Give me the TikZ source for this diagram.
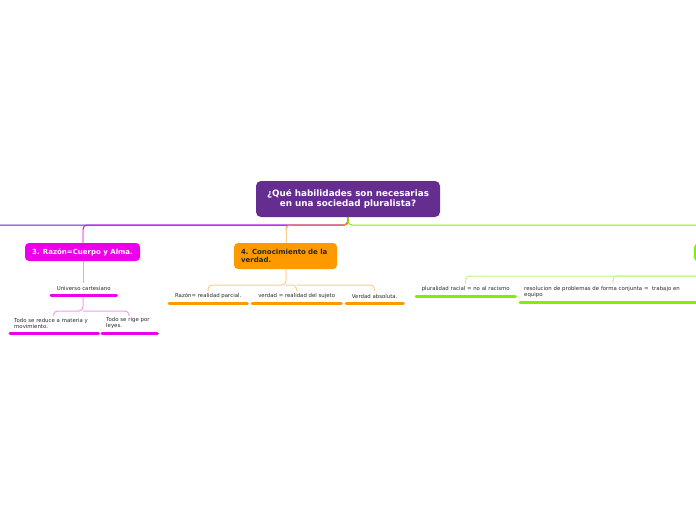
\documentclass[tikz,border=0pt]{standalone}
\usepackage{fontspec}
\setmainfont{DejaVu Sans}
\definecolor{cpurple}{HTML}{662D91}
\definecolor{cmag}{HTML}{EC00EC}
\definecolor{cmagl}{HTML}{F29CF2}
\definecolor{corange}{HTML}{FF9900}
\definecolor{corangel}{HTML}{FFCF8A}
\definecolor{cgreen}{HTML}{80F000}
\definecolor{cgreenl}{HTML}{BFF888}
\definecolor{cblue}{HTML}{5522DD}
\definecolor{ctext}{HTML}{2A2A2A}
\tikzset{
  topic/.style={rounded corners=4pt, minimum height=18pt, inner sep=0pt, font=\fontsize{7}{8}\selectfont\bfseries},
  leaf/.style={anchor=south west, inner xsep=4pt, inner ysep=3.8pt, align=left, text=ctext, font=\fontsize{5.4}{6.4}\selectfont},
  ul/.style={line width=3pt, line cap=round},
  conn/.style={line width=1pt, rounded corners=4pt},
}
\begin{document}
\begin{tikzpicture}[x=1pt,y=-1pt]
\clip (0,0) rectangle (696,520);
\fill[white] (0,0) rectangle (696,520);
% central
\node[rounded corners=5pt, fill=cpurple, text=white, minimum width=184pt, minimum height=36pt, align=center, inner sep=0pt,
  font=\fontsize{8.8}{10.6}\selectfont\bfseries] (c) at (348,199) {¿Qué habilidades son necesarias\\en una sociedad pluralista?};
% main topics
\node[topic, fill=cmag, text=white, minimum width=115pt] (r) at (82.5,252) {3. Razón=Cuerpo y Alma.};
\node[topic, fill=corange, text=black!85, minimum width=103pt, minimum height=26pt, text width=89pt, align=left] (k) at (285.5,256) {4. Conocimiento de la\\verdad.};
\node[topic, fill=cgreen, minimum width=120pt] (g) at (754,252.5) {};
\coordinate (w) at (-20,225);
% leaves
\node[leaf, minimum width=65pt] (u) at (51,295) {Universo cartesiano};
\node[leaf, minimum width=87pt, text width=80pt] (t1) at (10,333) {Todo se reduce a materia y\\movimiento.};
\node[leaf, minimum width=54pt, text width=47pt] (t2) at (102,333) {Todo se rige por\\leyes.};
\node[leaf, minimum width=78pt] (o1) at (169,303) {Razón= realidad parcial.};
\node[leaf, minimum width=89pt] (o2) at (252,303) {verdad = realidad del sujeto};
\node[leaf, minimum width=57pt] (o3) at (346,303) {Verdad absoluta.};
\node[leaf, minimum width=99pt] (g1) at (416,296) {pluralidad racial = no al racismo};
\node[leaf, minimum width=186pt, text width=179pt] (g2) at (520,302) {resolucion de problemas de forma conjunta =\ \ trabajo en\\equipo};
% spine connectors
\draw[conn, cblue] (c.south) -- (348,225) -- (w);
\draw[conn, cmag] (c.south) -- (348,225) -- (83,225) -- (r.north -| 83,0);
\draw[conn, cmagl] (83,230) -- (r.north -| 83,0);
\draw[conn, corange] (c.south) -- (348,225) -- (286,225) -- (286,230);
\draw[conn, corangel] (286,228) -- (k.north -| 286,0);
\draw[conn, cgreen] (c.south) -- (348,225) -- (754,225) -- (g.north);
% magenta subtree
\draw[conn, cmagl] (r.south -| 83,0) -- (83,283);
\draw[conn, cmagl] (83,296) -- (83,311) -- (53.5,311) -- (53.5,316);
\draw[conn, cmagl] (83,311) -- (129,311) -- (129,316);
% orange subtree
\draw[conn, corangel] (k.south -| 286,0) -- (286,285) -- (208,285) -- (208,291);
\draw[conn, corangel] (286,285) -- (296.5,285) -- (296.5,291);
\draw[conn, corangel] (296.5,285) -- (374.5,285) -- (374.5,291);
% green subtree
\draw[conn, cgreenl] (g.south) -- (754,276) -- (465.5,276) -- (465.5,283);
\draw[conn, cgreenl] (754,276) -- (613,276) -- (613,283);
% underlines
\draw[ul, cmag] (u.south west) -- (u.south east);
\draw[ul, cmag] (t1.south west) -- (t1.south east);
\draw[ul, cmag] (t2.south west) -- (t2.south east);
\draw[ul, corange] (o1.south west) -- (o1.south east);
\draw[ul, corange] (o2.south west) -- (o2.south east);
\draw[ul, corange] (o3.south west) -- (o3.south east);
\draw[ul, cgreen] (g1.south west) -- (g1.south east);
\draw[ul, cgreen] (g2.south west) -- (g2.south east);
\end{tikzpicture}
\end{document}
